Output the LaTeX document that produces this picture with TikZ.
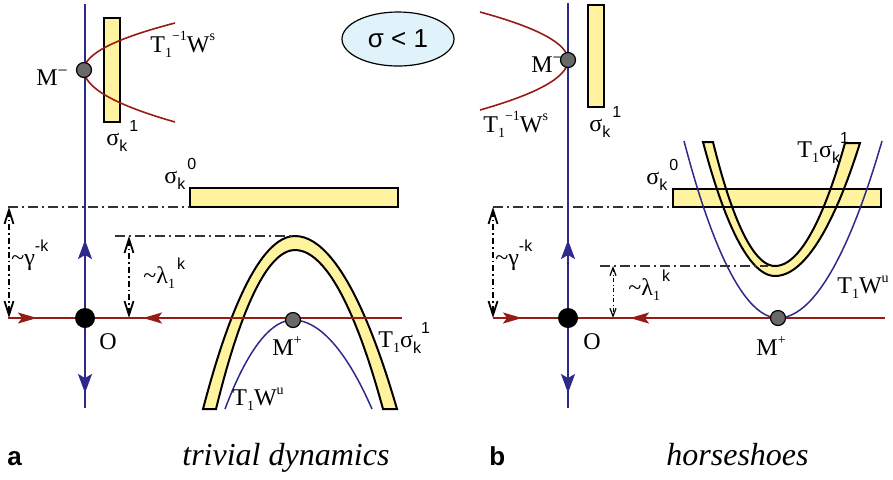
\documentclass[tikz,border=0pt]{standalone}
\usepackage{fontspec}
\setmainfont{Liberation Serif}
\newfontfamily\sansf{Liberation Sans}
\usetikzlibrary{arrows.meta,shapes.geometric}
\definecolor{axisblue}{RGB}{45,42,140}
\definecolor{axisred}{RGB}{150,28,22}
\definecolor{bandyellow}{RGB}{255,243,160}
\definecolor{ptgray}{RGB}{105,105,105}
\definecolor{ellblue}{RGB}{224,243,250}
\newcommand\lo[1]{\raisebox{-0.5ex}{\fontsize{7}{7}\selectfont #1}}
\newcommand\hi[1]{\raisebox{1.0ex}{\fontsize{7}{7}\selectfont #1}}
\newcommand\slo[1]{\raisebox{-0.55ex}{\fontsize{8}{8}\selectfont\sansf #1}}
\newcommand\shi[1]{\raisebox{1.2ex}{\fontsize{8}{8}\selectfont\sansf #1}}
\newcommand\mneg{\raisebox{0.75ex}{\fontsize{9}{9}\selectfont −}}
\begin{document}
\begin{tikzpicture}[x=0.5pt,y=-0.5pt,
  lbl/.style={inner sep=0pt, anchor=base west, font=\fontsize{12}{12}\selectfont},
  blueaxis/.style={draw=axisblue, line width=1pt},
  redaxis/.style={draw=axisred, line width=1pt},
  bluecurve/.style={draw=axisblue, line width=0.75pt},
  redcurve/.style={draw=axisred, line width=0.8pt},
  rectbox/.style={fill=bandyellow, draw=black, line width=1.2pt},
  bandfill/.style={fill=bandyellow},
  bandline/.style={draw=black, line width=1pt},
  guide/.style={draw=black!80, line width=0.65pt, dash pattern=on 5pt off 2pt on 1pt off 2pt},
  dimline/.style={draw=black, line width=0.65pt, dash pattern=on 3pt off 1.5pt on 0.8pt off 1.5pt,
     {Straight Barb[length=7pt,width=4.5pt,line width=0.9pt]}-{Straight Barb[length=7pt,width=4.5pt,line width=0.9pt]}},
  smalldim/.style={draw=black, line width=0.5pt, dash pattern=on 2pt off 1.2pt on 0.6pt off 1.2pt,
     {Straight Barb[length=4pt,width=3pt,line width=0.6pt]}-{Straight Barb[length=4pt,width=3pt,line width=0.6pt]}},
  bluearr/.style={draw=axisblue, line width=1pt, -{Stealth[length=9.5pt,width=7pt,inset=2pt]}},
  redarr/.style={draw=axisred, line width=1pt, -{Stealth[length=9.5pt,width=5.5pt,inset=2pt]}},
  opoint/.style={circle, fill=black, minimum size=10pt, inner sep=0pt},
  mpoint/.style={circle, fill=ptgray, draw=black, line width=0.6pt, minimum size=7.5pt, inner sep=0pt}]
\useasboundingbox (0,0) rectangle (893,479);
% ================= left panel =================
\path[rectbox] (104,18) rectangle (120,122);
\path[rectbox] (190,188) rectangle (398,207);
\coordinate (vTopL) at (85,4); \coordinate (vBotL) at (85,408);
\coordinate (hLeftL) at (8,318); \coordinate (hRightL) at (402,318);
\path[bandfill] (203,409) parabola bend (295,236) (397,409) -- (383,409) parabola bend (295,250) (216,409) -- cycle;
\path[bandline] (203,409) parabola bend (295,236) (397,409) -- (383,409) parabola bend (295,250) (216,409) -- cycle;
\draw[bluecurve] (225,409) parabola bend (293,320) (372,409);
\draw[guide] (8,207) -- (190,207);
\draw[guide] (115,236) -- (295,236);
\draw[dimline] (9,207) -- (9,318);
\draw[dimline] (129,236) -- (129,318);
\draw[blueaxis] (vTopL) -- (vBotL);
\draw[redaxis] (hLeftL) -- (hRightL);
\draw[bluearr] (85,260) -- (85,240);
\draw[bluearr] (85,374) -- (85,393);
\draw[redarr] (18,318) -- (37,318);
\draw[redarr] (163,318) -- (143,318);
\draw[redcurve] (175,23) .. controls (114.3,38.7) and (84,54.3) .. (84,70) .. controls (84,87.3) and (114.3,104.7) .. (175,122);
\node[opoint] (O1) at (85,318) {};
\node[mpoint] (Mm1) at (84,70) {};
\node[mpoint] (Mp1) at (293,320) {};
\node[lbl] (lMm1) at (36,85) {M\mneg};
\node[lbl] (lTWs1) at (150,52) {T\lo{1}\hi{−1}W\hi{s}};
\node[lbl] (ls11) at (106,145) {σ\slo{k}\kern1pt\shi{1}};
\node[lbl] (ls01) at (164,183) {σ\slo{k}\kern1pt\shi{0}};
\node[lbl] (lg1) at (11,265) {\textasciitilde γ\shi{-k}};
\node[lbl] (ll1) at (143,283) {\textasciitilde λ\lo{1}\kern1pt\shi{k}};
\node[lbl] (lO1) at (99,349) {O};
\node[lbl] (lMp1) at (272,355) {M\hi{+}};
\node[lbl] (lTs1) at (378,347) {T\lo{1}σ\slo{k}\shi{1}};
\node[lbl] (lTWu1) at (232,405) {T\lo{1}W\hi{u}};
% ================= ellipse =================
\node[ellipse, draw=black, line width=0.6pt, fill=ellblue, minimum width=56pt, minimum height=27pt, inner sep=0pt,
  font=\fontsize{13}{13}\selectfont\sansf] (sig) at (398,39) {σ < 1};
% ================= right panel =================
\path[rectbox] (588,5) rectangle (604,107);
\coordinate (vTopR) at (568,3); \coordinate (vBotR) at (568,408);
\coordinate (hLeftR) at (493,318); \coordinate (hRightR) at (885,318);
\path[bandfill] (673,189) rectangle (881,207);
\path[bandfill] (703,142) parabola bend (775,276) (860,143) -- (845,143) parabola bend (775,266) (713,142) -- cycle;
\draw[draw=black, line width=1.2pt] (673,189) rectangle (881,207);
\path[bandline] (703,142) parabola bend (775,276) (860,143) -- (845,143) parabola bend (775,266) (713,142) -- cycle;
\draw[bluecurve] (684,141) parabola bend (778,318) (882,141);
\draw[guide] (493,207) -- (673,207);
\draw[guide] (600,266) -- (768,266);
\draw[dimline] (493,207) -- (493,318);
\draw[smalldim] (613,266) -- (613,318);
\draw[blueaxis] (vTopR) -- (vBotR);
\draw[redaxis] (hLeftR) -- (hRightR);
\draw[bluearr] (568,260) -- (568,240);
\draw[bluearr] (568,374) -- (568,393);
\draw[redarr] (503,318) -- (522,318);
\draw[redarr] (648,318) -- (630,318);
\draw[redcurve] (480,12) .. controls (538.7,28) and (568,44) .. (568,60) .. controls (568,76.7) and (538.7,93.3) .. (480,110);
\node[opoint] (O2) at (568,318) {};
\node[mpoint] (Mm2) at (568,60) {};
\node[mpoint] (Mp2) at (778,318) {};
\node[lbl] (lMm2) at (531,72) {M\mneg};
\node[lbl] (lTWs2) at (483,132) {T\lo{1}\hi{−1}W\hi{s}};
\node[lbl] (ls12) at (589,131) {σ\slo{k}\kern1pt\shi{1}};
\node[lbl] (ls02) at (646,184) {σ\slo{k}\kern1pt\shi{0}};
\node[lbl] (lTs2) at (797,157) {T\lo{1}σ\slo{k}\shi{1}};
\node[lbl] (lTWu2) at (837,293) {T\lo{1}W\hi{u}};
\node[lbl] (lO2) at (583,349) {O};
\node[lbl] (lMp2) at (756,355) {M\hi{+}};
\node[lbl] (lg2) at (495,265) {\textasciitilde γ\shi{-k}};
\node[lbl] (ll2) at (628,295) {\textasciitilde λ\lo{1}\kern1pt\shi{k}};
% ================= captions =================
\node[inner sep=0pt, anchor=base west, font=\fontsize{13}{13}\selectfont\sansf\bfseries] (capa) at (7,465) {a};
\node[inner sep=0pt, anchor=base west, font=\fontsize{16}{16}\selectfont\itshape] (capta) at (182,465) {trivial dynamics};
\node[inner sep=0pt, anchor=base west, font=\fontsize{13}{13}\selectfont\sansf\bfseries] (capb) at (489,465) {b};
\node[inner sep=0pt, anchor=base west, font=\fontsize{16}{16}\selectfont\itshape] (captb) at (666,465) {horseshoes};
\end{tikzpicture}
\end{document}
